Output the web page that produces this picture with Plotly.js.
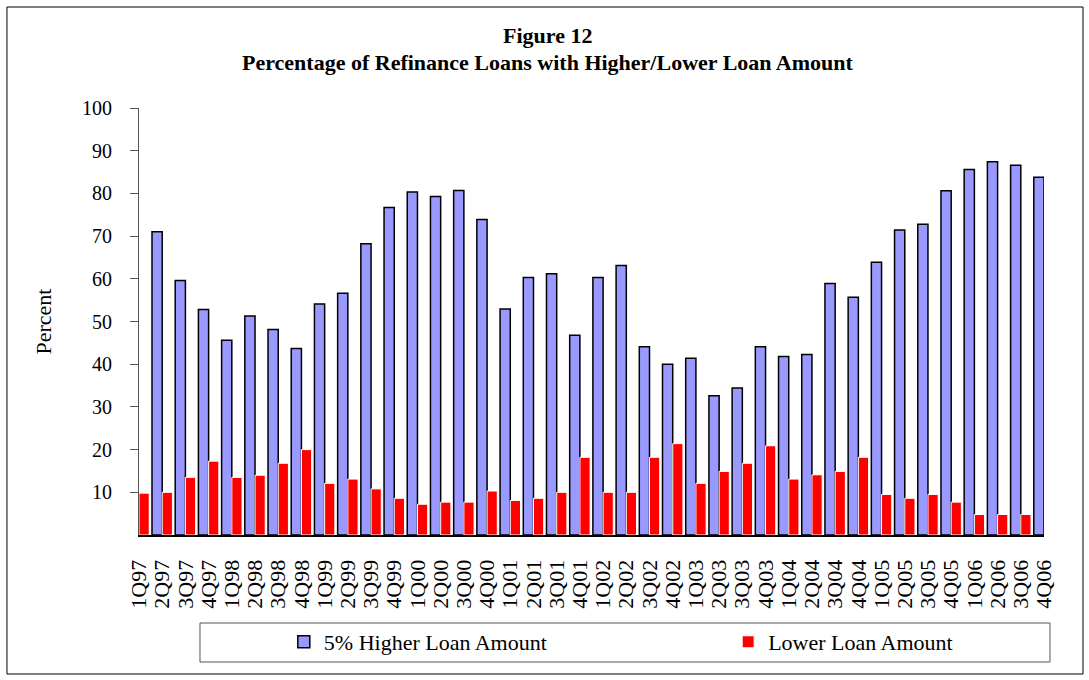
<!DOCTYPE html>
<html>
<head>
<meta charset="utf-8">
<script src="https://cdn.plot.ly/plotly-3.0.1.min.js"></script>
<style>
  html, body { margin: 0; padding: 0; background: #ffffff; }
  #chart { width: 1089px; height: 680px; }
</style>
</head>
<body>
<div id="chart"></div>
<script>
// ---- data ----
const quarters = [
  "1Q97","2Q97","3Q97","4Q97","1Q98","2Q98","3Q98","4Q98",
  "1Q99","2Q99","3Q99","4Q99","1Q00","2Q00","3Q00","4Q00",
  "1Q01","2Q01","3Q01","4Q01","1Q02","2Q02","3Q02","4Q02",
  "1Q03","2Q03","3Q03","4Q03","1Q04","2Q04","3Q04","4Q04",
  "1Q05","2Q05","3Q05","4Q05","1Q06","2Q06","3Q06","4Q06"
];
// 1Q97 value is not visible in the figure
const higherLoan = [
  null, 71.0, 59.6, 52.8, 45.6, 51.3, 48.1, 43.7,
  54.1, 56.6, 68.2, 76.7, 80.3, 79.3, 80.7, 73.9,
  52.9, 60.3, 61.2, 46.8, 60.3, 63.1, 44.1, 40.0,
  41.4, 32.6, 34.4, 44.1, 41.8, 42.3, 58.9, 55.7,
  63.9, 71.4, 72.8, 80.6, 85.6, 87.4, 86.6, 83.8
];
// 4Q06 value is not visible in the figure
const lowerLoan = [
  9.8, 10.0, 13.5, 17.3, 13.5, 14.0, 16.8, 20.0,
  12.1, 13.1, 10.8, 8.6, 7.2, 7.7, 7.7, 10.3,
  8.1, 8.6, 10.0, 18.2, 10.0, 10.0, 18.2, 21.4,
  12.1, 14.9, 16.8, 20.9, 13.1, 14.1, 14.9, 18.2,
  9.5, 8.6, 9.5, 7.7, 4.8, 4.8, 4.8, null
];
const seriesNames = ["5% Higher Loan Amount", "Lower Loan Amount"];
const yTickValues = [10, 20, 30, 40, 50, 60, 70, 80, 90, 100];
const titleLines = ["Figure 12", "Percentage of Refinance Loans with Higher/Lower Loan Amount"];
const yAxisTitle = "Percent";

// ---- chart ----
const serif = "Liberation Serif, Times New Roman, serif";

const traces = [
  {
    type: "bar",
    x: quarters,
    y: higherLoan,
    name: seriesNames[0],
    legend: "legend",
    marker: { color: "#9999FF", line: { color: "#000000", width: 1.5 } },
    hoverinfo: "skip"
  },
  {
    type: "bar",
    x: quarters,
    y: lowerLoan,
    name: seriesNames[1],
    legend: "legend2",
    marker: { color: "#FF0000", line: { color: "#ffffff", width: 1 } },
    hoverinfo: "skip"
  }
];

const layout = {
  width: 1089,
  height: 680,
  paper_bgcolor: "#ffffff",
  plot_bgcolor: "#ffffff",
  margin: { l: 139, r: 45, t: 108, b: 145 },
  font: { family: serif, color: "#000000", size: 21 },
  title: {
    text: "<b>" + titleLines[0] + "</b>",
    font: { family: serif, size: 22, color: "#000000" },
    x: 0.503, xref: "container", xanchor: "center",
    y: 1 - 35 / 680, yref: "container", yanchor: "middle"
  },
  annotations: [
    {
      text: "<b>" + titleLines[1] + "</b>",
      font: { family: serif, size: 22, color: "#000000" },
      xref: "paper", yref: "paper",
      x: (548 - 139) / 905, y: (535 - 62) / 427,
      xanchor: "center", yanchor: "middle", showarrow: false
    }
  ],
  barmode: "group",
  bargap: 0.12,
  bargroupgap: 0,
  hovermode: false,
  showlegend: true,
  xaxis: {
    type: "category",
    categoryorder: "array",
    categoryarray: quarters,
    range: [0, 39],
    tickmode: "array",
    tickvals: quarters,
    ticktext: quarters,
    tickangle: -90,
    tickfont: { family: serif, size: 22, color: "#000000" },
    ticks: "",
    ticklabelstandoff: 14,
    showline: true, linecolor: "#000000", linewidth: 2,
    showgrid: false, zeroline: false, fixedrange: true
  },
  yaxis: {
    range: [0, 100],
    tickmode: "array",
    tickvals: yTickValues,
    ticktext: yTickValues.map(String),
    ticks: "outside", ticklen: 8, tickwidth: 1, tickcolor: "#555555",
    ticklabelstandoff: 14,
    tickfont: { family: serif, size: 20, color: "#000000" },
    showline: true, linecolor: "#555555", linewidth: 1,
    showgrid: false, zeroline: false, fixedrange: true,
    title: { text: yAxisTitle, font: { family: serif, size: 22, color: "#000000" }, standoff: 24 }
  },
  legend: {
    orientation: "h",
    x: 0.160, xanchor: "left", xref: "paper",
    y: -0.2506, yanchor: "middle", yref: "paper",
    bgcolor: "rgba(0,0,0,0)", borderwidth: 0,
    font: { family: serif, size: 22, color: "#000000" }
  },
  legend2: {
    orientation: "h",
    x: 0.651, xanchor: "left", xref: "paper",
    y: -0.2506, yanchor: "middle", yref: "paper",
    bgcolor: "rgba(0,0,0,0)", borderwidth: 0,
    font: { family: serif, size: 22, color: "#000000" }
  },
  shapes: [
    { type: "rect", xref: "paper", yref: "paper",
      x0: -0.1459, x1: 1.0431, y0: -0.3255, y1: 1.2365,
      line: { color: "#000000", width: 1 }, fillcolor: "rgba(0,0,0,0)", layer: "below" },
    { type: "rect", xref: "paper", yref: "paper",
      x0: 0.0674, x1: 1.0066, y0: -0.2974, y1: -0.2061,
      line: { color: "#555555", width: 1 }, fillcolor: "rgba(0,0,0,0)", layer: "below" }
  ]
};

Plotly.newPlot("chart", traces, layout, { staticPlot: true, displayModeBar: false });
</script>
</body>
</html>
